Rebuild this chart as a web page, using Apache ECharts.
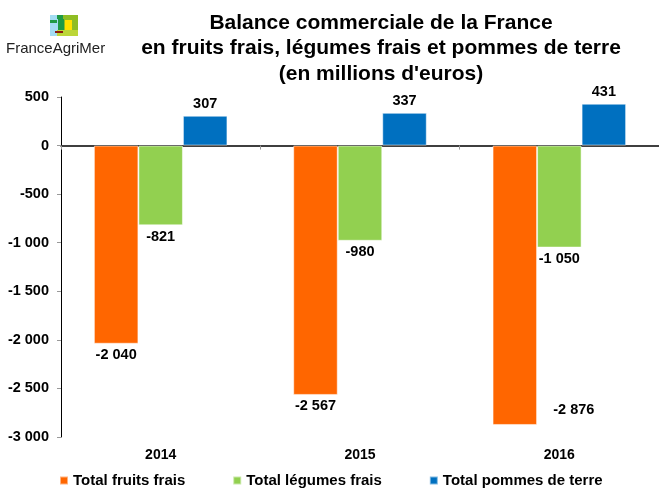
<!DOCTYPE html>
<html lang="fr">
<head>
    <meta charset="UTF-8">
    <title>Balance commerciale de la France</title>
    <script src="https://cdn.jsdelivr.net/npm/echarts@6/dist/echarts.min.js"></script>
    <style>
        html, body { margin: 0; padding: 0; background: #ffffff; }
        #main { width: 659px; height: 490px; }
    </style>
</head>
<body>
<div id="main"></div>
<script>
    // donnees (millions d'euros)
    var categories = ['2014', '2015', '2016'];
    var seriesNames = ['Total fruits frais', 'Total légumes frais', 'Total pommes de terre'];
    var fruits = [-2040, -2567, -2876];
    var legumes = [-821, -980, -1050];
    var pommes = [307, 337, 431];
    var yMin = -3000, yMax = 500, yStep = 500;

    var colors = ['#FF6600', '#92D050', '#0070C0'];
    var font = "'Liberation Sans', Arial, sans-serif";

    function fmt(v) {
        return String(v).replace(/\B(?=(\d{3})+(?!\d))/g, ' ');
    }

    // label du dernier baton orange decale a droite comme sur l'original
    var labelShift = { 0: { 2: [59, -26] } };

    function buildData(values, si) {
        return values.map(function (v, i) {
            var lab = { position: v < 0 ? 'bottom' : 'top' };
            if (labelShift[si] && labelShift[si][i]) {
                lab.offset = labelShift[si][i];
            }
            return { value: v, label: lab };
        });
    }

    var allValues = [fruits, legumes, pommes];
    var series = allValues.map(function (vals, si) {
        return {
            name: seriesNames[si],
            type: 'bar',
            xAxisIndex: 0,
            barGap: '0%',
            barCategoryGap: '33%',
            itemStyle: {
                color: colors[si],
                borderColor: 'rgba(255,255,255,0.5)',
                borderWidth: 1
            },
            label: {
                show: true,
                distance: 4,
                color: '#000',
                fontFamily: font,
                fontWeight: 'bold',
                fontSize: 14.5,
                formatter: function (p) { return fmt(p.value); }
            },
            data: buildData(vals, si)
        };
    });

    var chart = echarts.init(document.getElementById('main'), null, { renderer: 'canvas' });
    var option = {
        backgroundColor: '#ffffff',
        animation: false,
        color: colors,
        grid: { left: 61, right: 0, top: 97, bottom: 53, containLabel: false },
        legend: {
            data: seriesNames,
            left: 54,
            top: 468,
            itemWidth: 8,
            itemHeight: 8,
            itemGap: 47,
            icon: 'rect',
            textStyle: { color: '#000', fontFamily: font, fontWeight: 'bold', fontSize: 15 }
        },
        xAxis: [
            {
                type: 'category',
                data: categories,
                axisLine: { onZero: true, lineStyle: { color: '#000', width: 1.5 } },
                axisTick: { show: true, length: 4, lineStyle: { color: '#999' } },
                axisLabel: { show: false }
            },
            {
                type: 'category',
                data: categories,
                position: 'bottom',
                axisLine: { show: false },
                axisTick: { show: false },
                axisLabel: {
                    margin: 11,
                    color: '#000',
                    fontFamily: font,
                    fontWeight: 'bold',
                    fontSize: 14
                }
            }
        ],
        yAxis: {
            type: 'value',
            min: yMin,
            max: yMax,
            interval: yStep,
            axisLine: { show: true, lineStyle: { color: '#000', width: 1 } },
            axisTick: { show: true, length: 4, lineStyle: { color: '#999' } },
            splitLine: { show: false },
            axisLabel: {
                margin: 12,
                color: '#000',
                fontFamily: font,
                fontWeight: 'bold',
                fontSize: 14.5,
                formatter: function (v) { return fmt(v); }
            }
        },
        graphic: [
            {
                type: 'text',
                x: 381,
                y: 10,
                style: {
                    text: 'Balance commerciale de la France\nen fruits frais, légumes frais et pommes de terre\n(en millions d\'euros)',
                    fill: '#000',
                    font: 'bold 21px ' + font,
                    lineHeight: 25.5,
                    align: 'center',
                    verticalAlign: 'top'
                }
            },
            // logo FranceAgriMer
            { type: 'rect', shape: { x: 50, y: 15, width: 8, height: 21 }, style: { fill: '#a3dcf2' } },
            { type: 'rect', shape: { x: 50, y: 20, width: 7, height: 3 }, style: { fill: '#1e9a45' } },
            { type: 'rect', shape: { x: 57, y: 15, width: 7, height: 4 }, style: { fill: '#1e9a45' } },
            { type: 'rect', shape: { x: 63, y: 15, width: 15, height: 16 }, style: { fill: '#8fbd23' } },
            { type: 'rect', shape: { x: 58, y: 19, width: 6, height: 12 }, style: { fill: '#1e9a45' } },
            { type: 'rect', shape: { x: 65, y: 20, width: 7, height: 10 }, style: { fill: '#ffe100' } },
            { type: 'rect', shape: { x: 57, y: 30, width: 21, height: 6 }, style: { fill: '#bcd638' } },
            { type: 'rect', shape: { x: 55, y: 31, width: 8, height: 2 }, style: { fill: '#8b1a10' } },
            {
                type: 'text',
                x: 6,
                y: 41,
                style: {
                    text: 'FranceAgriMer',
                    fill: '#222',
                    font: '15px ' + font,
                    verticalAlign: 'top'
                }
            }
        ],
        series: series
    };
    chart.setOption(option);
</script>
</body>
</html>
